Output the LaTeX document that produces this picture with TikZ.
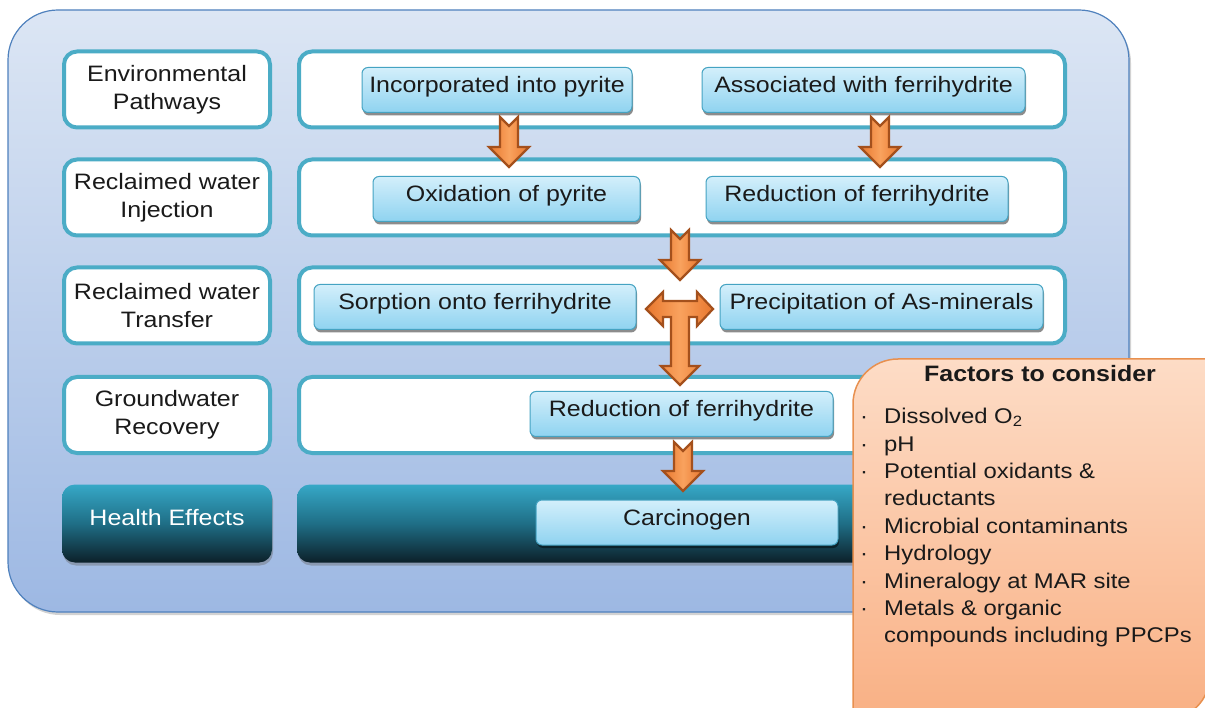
\documentclass[tikz,border=0pt]{standalone}
\usepackage{fontspec}
\setmainfont[FakeStretch=1.12]{Liberation Sans}
\usetikzlibrary{shadows}
\definecolor{teal5}{HTML}{4BACC6}
\definecolor{btnborder}{HTML}{45A3C2}
\definecolor{btntop}{HTML}{D3EFFB}
\definecolor{btnbot}{HTML}{8FD3F0}
\definecolor{outtop}{HTML}{DCE6F4}
\definecolor{outbot}{HTML}{9DB8E3}
\definecolor{outedge}{HTML}{4F81BD}
\definecolor{htop}{HTML}{36A8C7}
\definecolor{hmid}{HTML}{1F6E86}
\definecolor{hbot}{HTML}{0C2029}
\definecolor{arrowedge}{HTML}{A4501C}
\definecolor{arrowside}{HTML}{E8772E}
\definecolor{arrowmid}{HTML}{F9A25E}
\definecolor{ftop}{HTML}{FDDCC6}
\definecolor{fbot}{HTML}{F9B084}
\definecolor{fedge}{HTML}{E8904F}
\definecolor{txt}{HTML}{1A1A1A}
\tikzset{
  every node/.style={font=\fontsize{22.3}{28}\selectfont, text=txt},
  lbl/.style={draw=teal5, line width=4pt, fill=white, rounded corners=13pt,
    minimum width=206pt, minimum height=76pt, align=center, inner sep=0pt},
  rowbox/.style={draw=teal5, line width=4pt, fill=white, rounded corners=13pt,
    minimum width=766pt, minimum height=76pt, inner sep=0pt},
  btn/.style={draw=btnborder, line width=1pt, rounded corners=6pt,
    top color=btntop, bottom color=btnbot, minimum height=45pt,
    text height=16pt, text depth=10pt, inner sep=0pt,
    drop shadow={shadow xshift=1pt, shadow yshift=-3pt, fill=black, opacity=0.45}},
  hbox/.style={rounded corners=13pt, top color=htop, bottom color=hbot, middle color=hmid,
    minimum height=78pt, inner sep=0pt,
    drop shadow={shadow xshift=1pt, shadow yshift=-3pt, fill=black!60, opacity=0.4}},
  orangearrow/.style={draw=arrowedge, line width=2.2pt, line join=miter,
    left color=arrowside, right color=arrowside, middle color=arrowmid},
  factorbox/.style={draw=fedge, line width=1.5pt, top color=ftop, bottom color=fbot},
}
\newcommand\dnarrow[3]{%
  \path[orangearrow] (#1-9,#2) -- (#1,#2+9) -- (#1+9,#2) -- (#1+9,#3-20) -- (#1+20,#3-20)
    -- (#1,#3) -- (#1-20,#3-20) -- (#1-9,#3-20) -- cycle;}
\begin{document}
\begin{tikzpicture}[x=1pt, y=-1pt]
\useasboundingbox (0,0) rectangle (1205,708);
\clip (0,0) rectangle (1205,708);
\fill[white] (0,0) rectangle (1205,708);
% outer panel
\path[draw=outedge, line width=1.2pt, top color=outtop, bottom color=outbot, rounded corners=50pt,
  drop shadow={shadow xshift=2pt, shadow yshift=-3pt, fill=black!50, opacity=0.35}]
  (8,10) rectangle (1129,612);
% left labels
\node[lbl] (l1) at (167,89.5) {Environmental\\Pathways};
\node[lbl] (l2) at (167,197.5) {Reclaimed water\\Injection};
\node[lbl] (l3) at (167,305.5) {Reclaimed water\\Transfer};
\node[lbl] (l4) at (167,415) {Groundwater\\Recovery};
\node[hbox, minimum width=210pt, text height=16pt, text depth=13pt, text=white] (l5) at (167,523.5) {Health Effects};
% row panels
\node[rowbox] (r1) at (682,89.5) {};
\node[rowbox] (r2) at (682,197.5) {};
\node[rowbox] (r3) at (682,305.5) {};
\node[rowbox] (r4) at (682,415) {};
\node[hbox, minimum width=770pt] (r5) at (682,523.5) {};
% buttons
\node[btn, minimum width=270pt] (b1) at (497,90) {Incorporated into pyrite};
\node[btn, minimum width=323pt] (b2) at (863.5,90) {Associated with ferrihydrite};
\node[btn, minimum width=267pt] (b3) at (506.5,199) {Oxidation of pyrite};
\node[btn, minimum width=302pt] (b4) at (857,199) {Reduction of ferrihydrite};
\node[btn, minimum width=322pt] (b5) at (475,307) {Sorption onto ferrihydrite};
\node[btn, minimum width=323pt] (b6) at (881.5,307) {Precipitation of As-minerals};
\node[btn, minimum width=303pt] (b7) at (681.5,414) {Reduction of ferrihydrite};
\node[btn, minimum width=302pt] (b8) at (687,522.5) {Carcinogen};
% arrows
\dnarrow{509}{117}{167}
\dnarrow{880}{117}{167}
\dnarrow{680}{230}{280}
\dnarrow{683}{442}{491}
\path[orangearrow] (646,309) -- (663,292) -- (663,301) -- (697,301) -- (697,292) -- (713,309)
  -- (697,326) -- (697,317) -- (689,317) -- (689,366) -- (699,366) -- (680,385) -- (661,366)
  -- (671,366) -- (671,317) -- (663,317) -- (663,326) -- cycle;
% factors box
\path[factorbox] (853,720) -- (853,404) arc[start angle=180, end angle=270, radius=45]
  -- (1210,359) -- (1210,675) arc[start angle=0, end angle=90, radius=45] -- cycle;
\node[anchor=base, font=\fontsize{22.3}{28}\selectfont\bfseries] (ft) at (1040,382) {Factors to consider};
\node[anchor=north west, align=left, inner sep=0pt, font=\fontsize{21.3}{27.4}\selectfont] (fl) at (860,408)
 {\makebox[24pt][l]{·}Dissolved O\textsubscript{2}\\
  \makebox[24pt][l]{·}pH\\
  \makebox[24pt][l]{·}Potential oxidants \&\\
  \hspace*{24pt}reductants\\
  \makebox[24pt][l]{·}Microbial contaminants\\
  \makebox[24pt][l]{·}Hydrology\\
  \makebox[24pt][l]{·}Mineralogy at MAR site\\
  \makebox[24pt][l]{·}Metals \& organic\\
  \hspace*{24pt}compounds including PPCPs};
\end{tikzpicture}
\end{document}
